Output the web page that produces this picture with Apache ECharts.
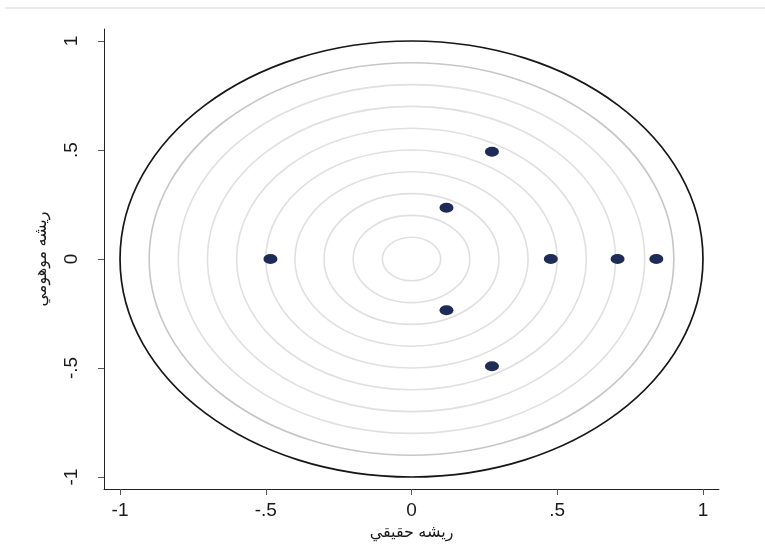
<!DOCTYPE html>
<html>
<head>
<meta charset="utf-8">
<script src="https://cdn.jsdelivr.net/npm/echarts@6/dist/echarts.min.js"></script>
<style>
html,body{margin:0;padding:0;background:#fff;}
#chart{width:765px;height:556px;}
</style>
</head>
<body>
<div id="chart"></div>
<script>
// Eigenvalues (roots)
const realParts = [-0.484, 0.478, 0.707, 0.840, 0.120, 0.120, 0.276, 0.276];
const imagParts = [0, 0, 0, 0, 0.235, -0.235, 0.492, -0.492];
// Reference circles
const guideRadii = [0.1, 0.2, 0.3, 0.4, 0.5, 0.6, 0.7, 0.8];
const outerGuideRadii = [0.9];
const unitRadii = [1];
// Tick labels
const tickValues = [-1, -0.5, 0, 0.5, 1];
const tickLabels = ['-1', '-.5', '0', '.5', '1'];
const xTitle = 'ریشه حقیقي';
const yTitle = 'ریشه موهومي';

const FONT = '"Liberation Sans", Arial, "DejaVu Sans", sans-serif';
const fmt = v => {
  const i = tickValues.findIndex(t => Math.abs(t - v) < 1e-9);
  return i >= 0 ? tickLabels[i] : '';
};

function circleSeries(radii, color, width) {
  return {
    type: 'custom',
    silent: true,
    z: 2,
    data: radii.map(r => [0, 0, r]),
    encode: { x: 0, y: 1 },
    renderItem: function (params, api) {
      const r = api.value(2);
      const c = api.coord([api.value(0), api.value(1)]);
      const s = api.size([r, r]);
      return {
        type: 'ellipse',
        shape: { cx: c[0], cy: c[1], rx: s[0], ry: s[1] },
        style: { fill: null, stroke: color, lineWidth: width }
      };
    }
  };
}

const chart = echarts.init(document.getElementById('chart'), null, { renderer: 'canvas' });
chart.setOption({
  animation: false,
  backgroundColor: '#ffffff',
  graphic: [{
    type: 'line',
    shape: { x1: 5, y1: 8, x2: 765, y2: 8 },
    style: { stroke: '#e9edf0', lineWidth: 2 },
    silent: true
  }],
  grid: { left: 104, right: 46, top: 29, bottom: 67, containLabel: false },
  xAxis: {
    type: 'value',
    min: -1.055, max: 1.055,
    interval: 0.5,
    splitLine: { show: false },
    axisLine: { show: true, onZero: false, lineStyle: { color: '#222', width: 1 } },
    axisTick: { show: true, length: 6, lineStyle: { color: '#555' }, customValues: tickValues },
    axisLabel: {
      show: true, margin: 12, fontSize: 19, color: '#1a1a1a', fontFamily: FONT,
      customValues: tickValues, formatter: fmt
    },
    name: xTitle,
    nameLocation: 'middle',
    nameGap: 44,
    nameTextStyle: { fontSize: 16, color: '#1a1a1a', fontFamily: FONT, verticalAlign: 'middle' }
  },
  yAxis: {
    type: 'value',
    min: -1.055, max: 1.055,
    interval: 0.5,
    splitLine: { show: false },
    axisLine: { show: true, onZero: false, lineStyle: { color: '#222', width: 1 } },
    axisTick: { show: true, length: 6, lineStyle: { color: '#555' }, customValues: tickValues },
    axisLabel: {
      show: true, margin: 23, fontSize: 19, color: '#1a1a1a', fontFamily: FONT,
      rotate: 90, align: 'center', verticalAlign: 'bottom',
      customValues: tickValues, formatter: fmt
    },
    name: yTitle,
    nameLocation: 'middle',
    nameGap: 62,
    nameRotate: 90,
    nameTextStyle: { fontSize: 16, color: '#1a1a1a', fontFamily: FONT, verticalAlign: 'middle', align: 'center' }
  },
  series: [
    circleSeries(guideRadii, '#e0e0e0', 1.6),
    circleSeries(outerGuideRadii, '#c6c6c6', 1.6),
    circleSeries(unitRadii, '#161616', 1.7),
    {
      type: 'scatter',
      z: 5,
      silent: true,
      data: realParts.map((x, i) => [x, imagParts[i]]),
      symbol: 'path://M0,5a5,5 0 1,0 10,0a5,5 0 1,0 -10,0',
      symbolKeepAspect: false,
      symbolSize: [14, 10],
      itemStyle: { color: '#1d2b56', opacity: 1 }
    }
  ]
});
</script>
</body>
</html>
